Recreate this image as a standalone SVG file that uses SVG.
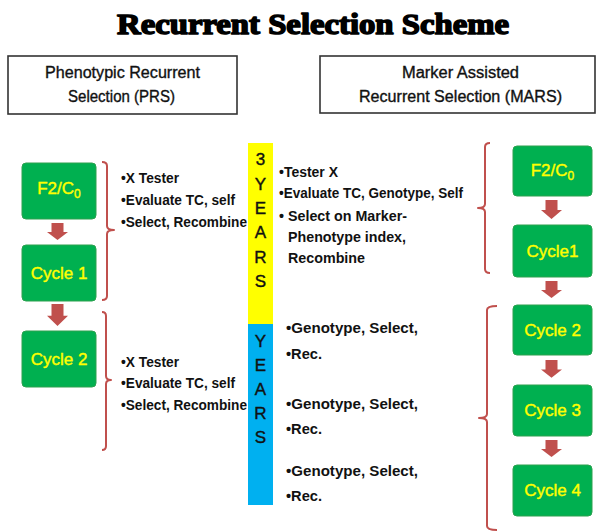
<svg xmlns="http://www.w3.org/2000/svg" width="597" height="532" viewBox="0 0 597 532">
  <defs>
    <style>
      .title { font-family: "Liberation Serif", "DejaVu Serif", serif; font-weight: bold; font-size: 30px; fill: #000; stroke: #000; stroke-width: 1.6px; stroke-linejoin: round; }
      .hdr-box { fill: #fff; stroke: #333; stroke-width: 1.6; }
      .hdr { font-family: "Liberation Sans", Arial, sans-serif; font-size: 16px; fill: #111; stroke: #111; stroke-width: 0.35px; text-anchor: middle; }
      .node rect { fill: #00B050; stroke: #2ca14f; stroke-width: 1; }
      .node text { font-family: "Liberation Sans", Arial, sans-serif; font-size: 17px; fill: #FFFF00; stroke: #FFFF00; stroke-width: 0.4px; text-anchor: middle; }
      .sub { font-size: 12px; }
      .note { font-family: "Liberation Sans", Arial, sans-serif; font-weight: bold; font-size: 14px; fill: #111; }
      .years { font-family: "Liberation Sans", Arial, sans-serif; font-size: 17px; fill: #111; stroke: #111; stroke-width: 0.4px; text-anchor: middle; }
      .brace { fill: none; stroke: #C0504D; stroke-width: 2; stroke-linejoin: round; }
      .arrow { fill: #C0504D; }
    </style>
    <!-- block arrow pointing down, origin at top centre -->
    <path id="blockArrow" d="M-6,0 H6 V9 H10.5 L0,17 L-10.5,9 H-6 Z"/>
  </defs>

  <rect width="597" height="532" fill="#fff"/>

  <!-- title -->
  <text class="title" x="117" y="34" textLength="392" lengthAdjust="spacingAndGlyphs">Recurrent Selection Scheme</text>

  <!-- column headers -->
  <g id="hdr-prs">
    <rect class="hdr-box" x="8" y="56" width="229" height="58"/>
    <text class="hdr" x="122.5" y="78" textLength="155" lengthAdjust="spacingAndGlyphs">Phenotypic Recurrent</text>
    <text class="hdr" x="121.5" y="102" textLength="107" lengthAdjust="spacingAndGlyphs">Selection (PRS)</text>
  </g>
  <g id="hdr-mars">
    <rect class="hdr-box" x="320" y="56" width="275" height="57"/>
    <text class="hdr" x="460.5" y="78" textLength="117" lengthAdjust="spacingAndGlyphs">Marker Assisted</text>
    <text class="hdr" x="460.5" y="102" textLength="203" lengthAdjust="spacingAndGlyphs">Recurrent Selection (MARS)</text>
  </g>

  <!-- time bar -->
  <g id="years-bar">
    <rect x="248" y="143" width="25" height="181" fill="#FFFF00"/>
    <rect x="248" y="324" width="25" height="181" fill="#00B0F0"/>
    <text class="years" x="260.5" y="165">3</text>
    <text class="years" x="260.5" y="190">Y</text>
    <text class="years" x="260.5" y="214">E</text>
    <text class="years" x="260.5" y="238">A</text>
    <text class="years" x="260.5" y="263">R</text>
    <text class="years" x="260.5" y="287">S</text>
    <text class="years" x="260.5" y="347">Y</text>
    <text class="years" x="260.5" y="371">E</text>
    <text class="years" x="260.5" y="395">A</text>
    <text class="years" x="260.5" y="419">R</text>
    <text class="years" x="260.5" y="443">S</text>
  </g>

  <!-- PRS cycles -->
  <g id="prs-f2" class="node">
    <rect x="22" y="163" width="74" height="56" rx="4"/>
    <text x="59" y="194">F2/C<tspan class="sub" dy="4">0</tspan></text>
  </g>
  <g id="prs-cycle1" class="node">
    <rect x="22" y="245" width="74" height="56" rx="4"/>
    <text x="59" y="279">Cycle 1</text>
  </g>
  <g id="prs-cycle2" class="node">
    <rect x="22" y="331" width="74" height="56" rx="4"/>
    <text x="59" y="365">Cycle 2</text>
  </g>

  <!-- MARS cycles -->
  <g id="mars-f2" class="node">
    <rect x="513" y="146" width="79" height="50" rx="4"/>
    <text x="552.5" y="176">F2/C<tspan class="sub" dy="4">0</tspan></text>
  </g>
  <g id="mars-cycle1" class="node">
    <rect x="513" y="225" width="79" height="52" rx="4"/>
    <text x="552.5" y="257">Cycle1</text>
  </g>
  <g id="mars-cycle2" class="node">
    <rect x="513" y="305" width="79" height="50" rx="4"/>
    <text x="552.5" y="336">Cycle 2</text>
  </g>
  <g id="mars-cycle3" class="node">
    <rect x="513" y="385" width="79" height="51" rx="4"/>
    <text x="552.5" y="416">Cycle 3</text>
  </g>
  <g id="mars-cycle4" class="node">
    <rect x="513" y="465" width="79" height="51" rx="4"/>
    <text x="552.5" y="496">Cycle 4</text>
  </g>

  <!-- step notes -->
  <g id="prs-notes-1">
    <text class="note" x="121" y="183" textLength="58" lengthAdjust="spacingAndGlyphs">•X Tester</text>
    <text class="note" x="121" y="205" textLength="114" lengthAdjust="spacingAndGlyphs">•Evaluate TC, self</text>
    <text class="note" x="121" y="227" textLength="126" lengthAdjust="spacingAndGlyphs">•Select, Recombine</text>
  </g>
  <g id="prs-notes-2">
    <text class="note" x="121" y="367" textLength="58" lengthAdjust="spacingAndGlyphs">•X Tester</text>
    <text class="note" x="121" y="388" textLength="114" lengthAdjust="spacingAndGlyphs">•Evaluate TC, self</text>
    <text class="note" x="121" y="410" textLength="126" lengthAdjust="spacingAndGlyphs">•Select, Recombine</text>
  </g>
  <g id="mars-notes-1">
    <text class="note" x="279" y="177" textLength="59" lengthAdjust="spacingAndGlyphs">•Tester X</text>
    <text class="note" x="279" y="198" textLength="184" lengthAdjust="spacingAndGlyphs">•Evaluate TC, Genotype, Self</text>
    <text class="note" x="279" y="221" textLength="128" lengthAdjust="spacingAndGlyphs">• Select on Marker-</text>
    <text class="note" x="288" y="242" textLength="118" lengthAdjust="spacingAndGlyphs">Phenotype index,</text>
    <text class="note" x="288" y="263" textLength="77" lengthAdjust="spacingAndGlyphs">Recombine</text>
  </g>
  <g id="mars-notes-2">
    <text class="note" x="286" y="333" textLength="132" lengthAdjust="spacingAndGlyphs">•Genotype, Select,</text>
    <text class="note" x="286" y="359" textLength="36" lengthAdjust="spacingAndGlyphs">•Rec.</text>
    <text class="note" x="286" y="409" textLength="132" lengthAdjust="spacingAndGlyphs">•Genotype, Select,</text>
    <text class="note" x="286" y="434" textLength="36" lengthAdjust="spacingAndGlyphs">•Rec.</text>
    <text class="note" x="286" y="476" textLength="132" lengthAdjust="spacingAndGlyphs">•Genotype, Select,</text>
    <text class="note" x="286" y="501" textLength="36" lengthAdjust="spacingAndGlyphs">•Rec.</text>
  </g>

  <!-- connectors: cycle arrows and grouping braces -->
  <g id="connectors">
    <use href="#blockArrow" class="arrow" transform="translate(57.5,223)"/>
    <use href="#blockArrow" class="arrow" transform="translate(57.5,304) scale(1,1.3)"/>
    <use href="#blockArrow" class="arrow" transform="translate(551.5,200) scale(1,1.12)"/>
    <use href="#blockArrow" class="arrow" transform="translate(551.5,281)"/>
    <use href="#blockArrow" class="arrow" transform="translate(551.5,360) scale(1,1.05)"/>
    <use href="#blockArrow" class="arrow" transform="translate(551.5,440)"/>

    <path class="brace" d="M102,162 Q107,162 107,166 V226 Q107,230 114,230 Q107,230 107,234 V296 Q107,300 102,300"/>
    <path class="brace" d="M102,312 Q106,312 106,316 V376 Q106,380 111,380 Q106,380 106,384 V446 Q106,450 102,450"/>
    <path class="brace" d="M490,143 Q485,143 485,147 V204 Q485,208 478,208 Q485,208 485,212 V269 Q485,273 490,273"/>
    <path class="brace" d="M497,306 Q487,306 487,310 V414 Q487,418 479,418 Q487,418 487,422 V526 Q487,530 497,530"/>
  </g>
</svg>
